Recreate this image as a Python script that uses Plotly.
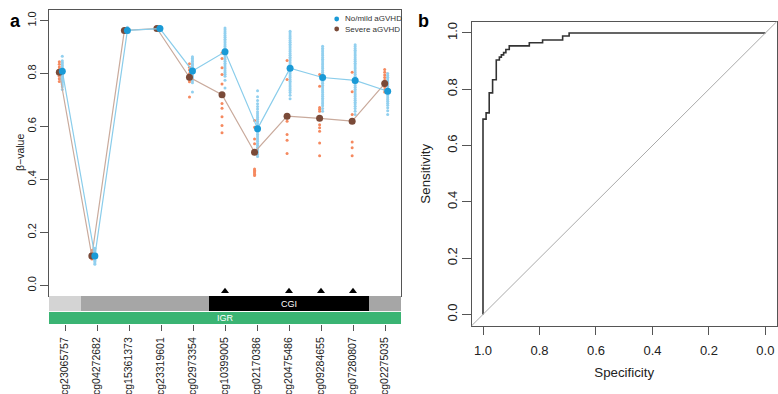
import plotly.graph_objects as go

# ---------------- data ----------------
cpg_ids = ["cg23065757", "cg04272682", "cg15361373", "cg23319601", "cg02973354",
           "cg10399005", "cg02170386", "cg20475486", "cg09284655", "cg07280807",
           "cg02275035"]

mean_mild = [0.809, 0.111, 0.963, 0.970, 0.810, 0.882, 0.592, 0.820, 0.785, 0.774, 0.733]
mean_severe = [0.805, 0.111, 0.963, 0.970, 0.786, 0.720, 0.503, 0.639, 0.631, 0.620, 0.762]

mild_values = [
    [0.865, 0.848, 0.842, 0.836, 0.830, 0.825, 0.820, 0.815, 0.810, 0.806, 0.802, 0.798,
     0.794, 0.790, 0.785, 0.780, 0.775, 0.770, 0.765, 0.758, 0.750, 0.740],
    [0.140, 0.135, 0.130, 0.125, 0.120, 0.116, 0.112, 0.108, 0.104, 0.100, 0.095, 0.090,
     0.085, 0.080],
    [0.975, 0.972, 0.968, 0.965, 0.962, 0.958, 0.955],
    [0.978, 0.975, 0.972, 0.969, 0.966, 0.962],
    [0.863, 0.858, 0.852, 0.846, 0.840, 0.835, 0.830, 0.825, 0.820, 0.815, 0.810, 0.805,
     0.800, 0.795, 0.790, 0.785, 0.780, 0.773, 0.765, 0.730],
    [0.972, 0.965, 0.958, 0.951, 0.944, 0.937, 0.930, 0.923, 0.916, 0.909, 0.902, 0.895,
     0.888, 0.881, 0.874, 0.867, 0.860, 0.853, 0.846, 0.839, 0.832, 0.825, 0.818, 0.811,
     0.804, 0.797, 0.790, 0.775, 0.745],
    [0.735, 0.712, 0.698, 0.686, 0.676, 0.666, 0.656, 0.648, 0.641, 0.634, 0.627, 0.620,
     0.613, 0.606, 0.599, 0.592, 0.585, 0.578, 0.571, 0.564, 0.557, 0.550, 0.543, 0.536,
     0.529, 0.522, 0.515, 0.508, 0.501, 0.494, 0.487],
    [0.960, 0.953, 0.946, 0.939, 0.932, 0.925, 0.918, 0.911, 0.904, 0.897, 0.890, 0.883,
     0.876, 0.869, 0.862, 0.855, 0.848, 0.841, 0.834, 0.827, 0.820, 0.813, 0.806, 0.799,
     0.792, 0.785, 0.778, 0.771, 0.764, 0.757, 0.750, 0.743, 0.736, 0.728, 0.718, 0.705],
    [0.903, 0.896, 0.889, 0.882, 0.875, 0.868, 0.861, 0.854, 0.847, 0.840, 0.833, 0.826,
     0.819, 0.812, 0.805, 0.798, 0.791, 0.784, 0.777, 0.770, 0.763, 0.756, 0.749, 0.742,
     0.735, 0.728, 0.721, 0.714, 0.707, 0.700, 0.693, 0.686, 0.678, 0.668, 0.658],
    [0.909, 0.902, 0.895, 0.888, 0.881, 0.874, 0.867, 0.860, 0.853, 0.846, 0.839, 0.832,
     0.825, 0.818, 0.811, 0.804, 0.797, 0.790, 0.783, 0.776, 0.769, 0.762, 0.755, 0.748,
     0.741, 0.734, 0.727, 0.720, 0.713, 0.706, 0.699, 0.692, 0.685, 0.677, 0.668, 0.658,
     0.645],
    [0.800, 0.793, 0.786, 0.779, 0.772, 0.765, 0.758, 0.751, 0.744, 0.737, 0.730, 0.723,
     0.716, 0.709, 0.702, 0.695, 0.688, 0.680, 0.671, 0.660, 0.645],
]

severe_values = [
    [0.845, 0.835, 0.825, 0.815, 0.808, 0.800, 0.790, 0.780, 0.770],
    [0.132, 0.125, 0.118, 0.112, 0.106, 0.100],
    [0.968, 0.964, 0.960],
    [0.974, 0.970, 0.966],
    [0.837, 0.824, 0.813, 0.800, 0.777, 0.769, 0.711],
    [0.878, 0.857, 0.822, 0.796, 0.761, 0.720, 0.687, 0.669, 0.637, 0.604, 0.576],
    [0.623, 0.597, 0.553, 0.535, 0.440, 0.435, 0.430, 0.425, 0.420, 0.415],
    [0.849, 0.778, 0.645, 0.632, 0.620, 0.570, 0.548, 0.498],
    [0.796, 0.752, 0.672, 0.665, 0.658, 0.607, 0.595, 0.582, 0.538, 0.490],
    [0.805, 0.731, 0.645, 0.623, 0.542, 0.520, 0.490],
    [0.815, 0.805, 0.795, 0.785, 0.775, 0.765, 0.750, 0.740, 0.730],
]

marked_sites = [6, 8, 9, 10]          # CpGs flagged with a triangle

cgi_track = [  # (start, end, colour, label)
    (0.5, 1.5, "#D4D4D4", ""),
    (1.5, 5.5, "#A6A6A6", ""),
    (5.5, 10.5, "#000000", "CGI"),
    (10.5, 11.5, "#A6A6A6", ""),
]
region_track = [(0.5, 11.5, "#3AB473", "IGR")]

roc_spec = [1.0, 1.0, 0.989, 0.978, 0.966, 0.953, 0.942, 0.935, 0.927, 0.919, 0.907,
            0.836, 0.789, 0.718, 0.695, 0.0]
roc_sens = [0.0, 0.694, 0.716, 0.787, 0.834, 0.904, 0.914, 0.922, 0.930, 0.941, 0.954,
            0.965, 0.975, 0.989, 1.0, 1.0]

tick_vals01 = [0.0, 0.2, 0.4, 0.6, 0.8, 1.0]
tick_text01 = ["0.0", "0.2", "0.4", "0.6", "0.8", "1.0"]

# ---------------- styling ----------------
FONT = "Liberation Sans, Arial, Helvetica, sans-serif"
BLUE_DOT = "#92D0EF"
ORANGE_DOT = "#F5895F"
BLUE_LINE = "#8ACDEB"
BROWN_LINE = "#C9AA9C"
BLUE_MK = "#1A9AD6"
BROWN_MK = "#7A4A38"
AX = "#555555"
OFF = 0.046

positions = list(range(1, len(cpg_ids) + 1))

fig = go.Figure()

# small per-sample dots
bx, by, ox, oy = [], [], [], []
for p, vals in zip(positions, mild_values):
    bx += [p + OFF] * len(vals)
    by += vals
for p, vals in zip(positions, severe_values):
    ox += [p - OFF] * len(vals)
    oy += vals

fig.add_trace(go.Scatter(x=bx, y=by, mode="markers", xaxis="x", yaxis="y",
                         marker=dict(color=BLUE_DOT, size=3), showlegend=False,
                         hoverinfo="skip"))
fig.add_trace(go.Scatter(x=ox, y=oy, mode="markers", xaxis="x", yaxis="y",
                         marker=dict(color=ORANGE_DOT, size=3), showlegend=False,
                         hoverinfo="skip"))
# mean lines
fig.add_trace(go.Scatter(x=[p - OFF for p in positions], y=mean_severe,
                         mode="lines+markers", xaxis="x", yaxis="y",
                         line=dict(color=BROWN_LINE, width=1.2),
                         marker=dict(color=BROWN_MK, size=7), showlegend=False))
fig.add_trace(go.Scatter(x=[p + OFF for p in positions], y=mean_mild,
                         mode="lines+markers", xaxis="x", yaxis="y",
                         line=dict(color=BLUE_LINE, width=1.2),
                         marker=dict(color=BLUE_MK, size=7), showlegend=False))
# triangles
fig.add_trace(go.Scatter(x=marked_sites, y=[-0.022] * len(marked_sites), mode="markers",
                         xaxis="x4", yaxis="y",
                         marker=dict(symbol="triangle-up", color="black", size=7),
                         showlegend=False))

# ROC curve
fig.add_trace(go.Scatter(x=roc_spec, y=roc_sens, mode="lines", xaxis="x2", yaxis="y2",
                         line=dict(color="#333333", width=1.6, shape="hv"),
                         showlegend=False))

shapes = []
for s, e, c, _ in cgi_track:
    shapes.append(dict(type="rect", xref="x3", yref="y3", x0=s, x1=e, y0=0.46, y1=1.0,
                       fillcolor=c, line=dict(width=0), layer="below"))
for s, e, c, _ in region_track:
    shapes.append(dict(type="rect", xref="x3", yref="y3", x0=s, x1=e, y0=0.0, y1=0.43,
                       fillcolor=c, line=dict(width=0), layer="below"))
# identity line on ROC
shapes.append(dict(type="line", xref="x2 domain", yref="y2 domain", x0=0, y0=0, x1=1, y1=1,
                   line=dict(color="#AAAAAA", width=1)))
# legend glyphs
shapes.append(dict(type="circle", xref="paper", yref="paper",
                   x0=334.3 / 778, x1=339.1 / 778, y0=1 - 21.4 / 394, y1=1 - 16.6 / 394,
                   fillcolor=BLUE_MK, line=dict(width=0)))
shapes.append(dict(type="circle", xref="paper", yref="paper",
                   x0=334.3 / 778, x1=339.1 / 778, y0=1 - 31.4 / 394, y1=1 - 26.6 / 394,
                   fillcolor=BROWN_MK, line=dict(width=0)))

annotations = []
for s, e, c, lab in cgi_track + region_track:
    if lab:
        y = 0.73 if lab == "CGI" else 0.215
        annotations.append(dict(text=lab, x=(s + e) / 2, y=y, xref="x3", yref="y3",
                                showarrow=False, font=dict(color="white", size=9, family=FONT)))
annotations += [
    dict(text="No/mild aGVHD", x=343 / 778, y=1 - 19 / 394, xref="paper", yref="paper",
         xanchor="left", yanchor="middle", showarrow=False,
         font=dict(size=8, color="#333333", family=FONT)),
    dict(text="Severe aGVHD", x=343 / 778, y=1 - 29 / 394, xref="paper", yref="paper",
         xanchor="left", yanchor="middle", showarrow=False,
         font=dict(size=8, color="#333333", family=FONT)),
    dict(text="β−value", x=12 / 778, y=1 - 153 / 394, xref="paper", yref="paper",
         textangle=-90, showarrow=False, font=dict(size=10.5, color="#222222", family=FONT)),
    dict(text="<b>a</b>", x=7.5 / 778, y=1 - 9 / 394, xref="paper", yref="paper",
         showarrow=False, font=dict(size=18, color="black", family=FONT)),
    dict(text="<b>b</b>", x=424 / 778, y=1 - 9 / 394, xref="paper", yref="paper",
         showarrow=False, font=dict(size=18, color="black", family=FONT)),
]

xdom = [49 / 778, 401 / 778]
fig.update_layout(
    width=778, height=394, margin=dict(l=0, r=0, t=0, b=0),
    paper_bgcolor="white", plot_bgcolor="white",
    font=dict(family=FONT, color="#222222"),
    shapes=shapes, annotations=annotations, showlegend=False,
    xaxis=dict(domain=xdom, range=[0.637, 11.455], showticklabels=False, ticks="",
               showline=True, mirror=True, linecolor=AX, linewidth=1,
               showgrid=False, zeroline=False, anchor="y"),
    xaxis4=dict(overlaying="x", range=[0.5, 11.5], visible=False, anchor="y"),
    yaxis=dict(domain=[1 - 296 / 394, 1 - 10 / 394], range=[-0.04, 1.04],
               tickvals=tick_vals01, ticktext=tick_text01, ticks="outside", ticklen=8,
               tickcolor=AX, tickangle=-90, tickfont=dict(size=11),
               showline=True, mirror=True, linecolor=AX, linewidth=1,
               showgrid=False, zeroline=False, anchor="x"),
    xaxis3=dict(domain=xdom, range=[0.5, 11.5], tickvals=positions, ticktext=cpg_ids,
                tickangle=-90, ticks="outside", ticklen=6, tickcolor=AX,
                tickfont=dict(size=10.5), ticklabelstandoff=2, showline=False,
                showgrid=False, zeroline=False, anchor="y3"),
    yaxis3=dict(domain=[1 - 324 / 394, 1 - 296 / 394], range=[0, 1], visible=False,
                anchor="x3"),
    xaxis2=dict(domain=[471.7 / 778, 776.7 / 778], range=[1.04, -0.04],
                tickvals=tick_vals01, ticktext=tick_text01, ticks="outside", ticklen=8,
                tickcolor=AX, tickfont=dict(size=13), ticklabelstandoff=5,
                title=dict(text="Specificity", font=dict(size=13.3), standoff=10),
                showline=True, mirror=True, linecolor=AX, linewidth=1,
                showgrid=False, zeroline=False, anchor="y2"),
    yaxis2=dict(domain=[1 - 325.7 / 394, 1 - 21.7 / 394], range=[-0.04, 1.04],
                tickvals=tick_vals01, ticktext=tick_text01, ticks="outside", ticklen=9,
                tickcolor=AX, tickangle=-90, tickfont=dict(size=13),
                title=dict(text="Sensitivity", font=dict(size=13.3), standoff=10),
                showline=True, mirror=True, linecolor=AX, linewidth=1,
                showgrid=False, zeroline=False, anchor="x2"),
)

fig.write_html("out.html",
               config={"displayModeBar": False},
               post_script="document.body.style.margin='0px';"
                           "document.body.style.overflow='hidden';")
